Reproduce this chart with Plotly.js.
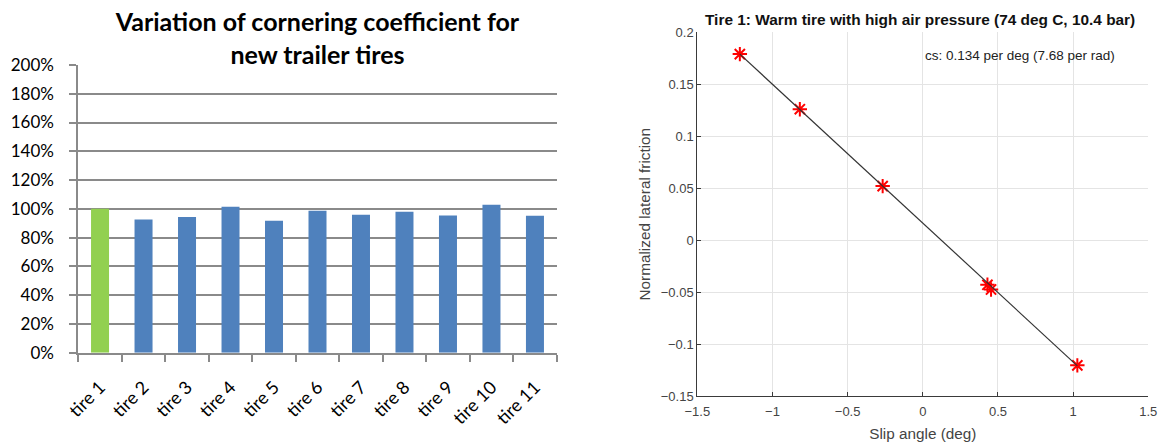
<!DOCTYPE html>
<html>
<head>
<meta charset="utf-8">
<script src="https://cdn.plot.ly/plotly-3.0.1.min.js"></script>
<style>html,body{margin:0;padding:0;background:#fff;}#chart{width:1160px;height:443px;}</style>
</head>
<body>
<div id="chart"></div>
<script>
// Left chart: cornering coefficient relative to tire 1 (%)
const tireNames = ["tire 1","tire 2","tire 3","tire 4","tire 5","tire 6","tire 7","tire 8","tire 9","tire 10","tire 11"];
const corneringPct = [100, 92.6, 94.3, 101.4, 91.7, 98.6, 95.9, 97.9, 95.4, 102.8, 95.2];
const barColors = ["#92D050","#4F81BD","#4F81BD","#4F81BD","#4F81BD","#4F81BD","#4F81BD","#4F81BD","#4F81BD","#4F81BD","#4F81BD"];
const leftTitle = "Variation of cornering coefficient for<br>new trailer tires";

// Right chart: measured slip angle vs normalized lateral friction
const slipDeg = [-1.217, -0.818, -0.267, 0.430, 0.454, 1.028];
const latFriction = [0.179, 0.126, 0.052, -0.043, -0.0475, -0.1205];
const fitX = [-1.217, 1.028];
const fitY = [0.179, -0.121];
const rightTitle = "Tire 1: Warm tire with high air pressure (74 deg C, 10.4 bar)";
const csText = "cs: 0.134 per deg (7.68 per rad)";

const W = 1160, H = 443;
const px = v => v / W;
const py = v => 1 - v / H;

const traces = [
  {
    type: "bar", x: tireNames, y: corneringPct,
    marker: {color: barColors, line: {width: 0}},
    xaxis: "x", yaxis: "y", showlegend: false, hoverinfo: "x+y"
  },
  {
    type: "scatter", mode: "markers", x: slipDeg, y: latFriction,
    marker: {symbol: "asterisk-open", size: 12, color: "#ff0000", line: {color: "#ff1a1a", width: 2}},
    xaxis: "x2", yaxis: "y2", showlegend: false
  },
  {
    type: "scatter", mode: "lines", x: fitX, y: fitY,
    line: {color: "#333333", width: 1.2},
    xaxis: "x2", yaxis: "y2", showlegend: false
  }
];

const gridGray = "#8a8a8a";
const layout = {
  width: W, height: H,
  margin: {l: 0, r: 0, t: 0, b: 0},
  paper_bgcolor: "#ffffff", plot_bgcolor: "#ffffff",
  showlegend: false,
  bargap: 0.586,
  title: {
    text: leftTitle,
    font: {family: "Lato", size: 25, color: "#000", weight: "bold"},
    x: px(317.5), xanchor: "center", xref: "paper",
    y: py(31), yanchor: "top", yref: "container"
  },
  xaxis: {
    domain: [px(78.3), px(556.7)],
    type: "category",
    showline: true, linecolor: gridGray, linewidth: 2,
    ticks: "outside", tickson: "boundaries", ticklen: 7, tickwidth: 2, tickcolor: gridGray,
    tickangle: -45,
    tickfont: {family: "Lato", size: 18, color: "#000"},
    ticklabelstandoff: 15,
    showgrid: false, zeroline: false, fixedrange: true
  },
  yaxis: {
    domain: [1 - 352.7 / H, 1 - 65 / H],
    range: [0, 200], dtick: 20, tick0: 0,
    ticksuffix: "%",
    showline: true, linecolor: gridGray, linewidth: 2,
    ticks: "outside", ticklen: 7, tickwidth: 2, tickcolor: gridGray,
    showgrid: true, gridcolor: gridGray, gridwidth: 2,
    zeroline: false,
    tickfont: {family: "Lato", size: 17, color: "#000"},
    ticklabelstandoff: 12,
    fixedrange: true
  },
  xaxis2: {
    domain: [px(697.3), px(1148.3)],
    anchor: "y2",
    range: [-1.5, 1.5], dtick: 0.5, tick0: 0,
    showline: true, linecolor: "#3a3a3a", linewidth: 1,
    ticks: "inside", ticklen: 4, tickcolor: "#3a3a3a",
    showgrid: true, gridcolor: "#e4e4e4", gridwidth: 1,
    zeroline: false,
    tickfont: {family: "Liberation Sans", size: 13, color: "#444"},
    ticklabelstandoff: 3,
    title: {text: "Slip angle (deg)", font: {family: "Liberation Sans", size: 15.3, color: "#444"}, standoff: 10}
  },
  yaxis2: {
    domain: [1 - 396 / H, 1 - 32.3 / H],
    anchor: "x2",
    range: [-0.15, 0.2], dtick: 0.05, tick0: 0,
    showline: true, linecolor: "#3a3a3a", linewidth: 1,
    ticks: "inside", ticklen: 4, tickcolor: "#3a3a3a",
    showgrid: true, gridcolor: "#e4e4e4", gridwidth: 1,
    zeroline: false,
    tickfont: {family: "Liberation Sans", size: 13, color: "#444"},
    title: {text: "Normalized lateral friction", font: {family: "Liberation Sans", size: 15.3, color: "#444"}, standoff: 6}
  },
  annotations: [
    {
      text: rightTitle, showarrow: false,
      xref: "paper", yref: "paper", x: px(920), y: py(19.5),
      xanchor: "center", yanchor: "middle",
      font: {family: "Liberation Sans", size: 15.4, color: "#111", weight: "bold"}
    },
    {
      text: csText, showarrow: false,
      xref: "x2", yref: "y2", x: 0.004, y: 0.178,
      xanchor: "left", yanchor: "middle",
      font: {family: "Liberation Sans", size: 13.5, color: "#222"}
    }
  ]
};

Plotly.newPlot("chart", traces, layout, {displayModeBar: false, staticPlot: true});
</script>
</body>
</html>
